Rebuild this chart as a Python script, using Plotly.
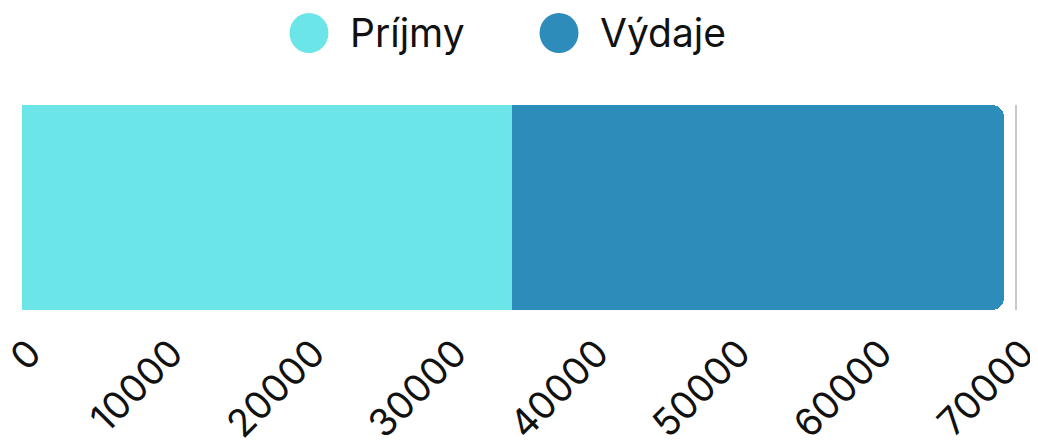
import plotly.graph_objects as go

categories = ["Rozpočet"]
series_names = ["Príjmy", "Výdaje"]
prijmy = [34540]
vydaje = [34690]
colors = ["#6be5e8", "#2e8cba"]
tick_vals = [0, 10000, 20000, 30000, 40000, 50000, 60000, 70000]
tick_text = ["0", "10000", "20000", "30000", "40000", "50000", "60000", "70000"]

fig = go.Figure()
for name, vals, col in zip(series_names, [prijmy, vydaje], colors):
    fig.add_trace(go.Bar(y=categories, x=vals, name=name, orientation="h",
                         marker=dict(color=col, line=dict(width=0)),
                         showlegend=False))

# manual legend with large circles
legend_x = [0.289, 0.5408]
for name, col, lx in zip(series_names, colors, legend_x):
    fig.add_shape(type="circle", xref="paper", yref="paper",
                  x0=lx - 0.0196, x1=lx + 0.0196, y0=1.0 + (105 - 53) / 205, y1=1.0 + (105 - 13) / 205,
                  fillcolor=col, line=dict(width=0))
    fig.add_annotation(text=name, xref="paper", yref="paper", x=lx + 0.0393, y=1.0 + (105 - 32) / 205,
                       xanchor="left", yanchor="middle", showarrow=False,
                       font=dict(family="Inter", size=39, color="#111"))

fig.update_layout(
    width=1038, height=441,
    margin=dict(l=14, r=31, t=97, b=139, autoexpand=False),
    barmode="stack", bargap=0, barcornerradius=12,
    plot_bgcolor="white", paper_bgcolor="white",
    font=dict(family="Inter", color="#111"),
)
fig.update_xaxes(range=[0, 70000], tickvals=tick_vals, ticktext=tick_text, tickangle=-45,
                 tickfont=dict(size=38, family="Inter", color="#111"),
                 showgrid=True, gridcolor="#c8c8c8", gridwidth=2,
                 zeroline=False, showline=False, ticks="", ticklabelstandoff=12,
                 ticklabelshift=8,
                 automargin=False, ticklabeloverflow="allow")
fig.update_yaxes(showticklabels=False, showgrid=False, zeroline=False, side="right",
                 showline=True, linecolor="#c8c8c8", linewidth=2, automargin=False)

fig.write_html("out.html")
